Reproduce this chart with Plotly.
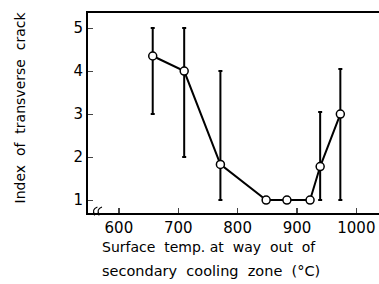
import plotly.graph_objects as go

temps = [657, 710, 771, 848, 883, 922, 939, 973]
index_vals = [4.35, 4.0, 1.83, 1.0, 1.0, 1.0, 1.78, 3.0]
err_upper = [5.0, 5.0, 4.0, 1.0, 1.0, 1.0, 3.05, 4.05]
err_lower = [3.0, 2.0, 1.0, 1.0, 1.0, 1.0, 1.0, 1.0]
x_ticks = [600, 700, 800, 900, 1000]
y_ticks = [1, 2, 3, 4, 5]

plus = [u - v for u, v in zip(err_upper, index_vals)]
minus = [v - l for l, v in zip(err_lower, index_vals)]

FONT = "DejaVu Sans"
fig = go.Figure()
fig.add_trace(go.Scatter(
    x=temps, y=index_vals, mode="lines+markers",
    line=dict(color="black", width=2),
    marker=dict(symbol="circle", size=8, color="white", line=dict(color="black", width=1.5)),
    error_y=dict(type="data", symmetric=False, array=plus, arrayminus=minus,
                 color="black", thickness=2, width=2),
    showlegend=False, hoverinfo="skip",
))

fig.update_layout(
    width=392, height=284,
    margin=dict(l=88, r=0, t=13, b=71),
    paper_bgcolor="white", plot_bgcolor="white",
    font=dict(family=FONT, color="black"),
    xaxis=dict(range=[548, 1060], tickvals=x_ticks, ticks="inside", ticklen=5,
               tickwidth=1.5, showline=True, linecolor="black", linewidth=2,
               mirror=True, showgrid=False, zeroline=False,
               tickfont=dict(size=15, family=FONT)),
    yaxis=dict(range=[0.7, 5.35], tickvals=y_ticks, ticks="inside", ticklen=5,
               tickwidth=1, showline=True, linecolor="black", linewidth=2,
               showgrid=False, zeroline=False,
               tickfont=dict(size=15, family=FONT)),
    annotations=[
        dict(text="Index  of  transverse  crack", textangle=-90, x=-0.255, y=0.53,
             xref="paper", yref="paper", showarrow=False, font=dict(size=14, family=FONT)),
        dict(text="Surface  temp. at  way  out  of", x=0.04, y=-0.12,
             xref="paper", yref="paper", xanchor="left", yanchor="top",
             showarrow=False, font=dict(size=14, family=FONT)),
        dict(text="secondary  cooling  zone  (°C)", x=0.04, y=-0.24,
             xref="paper", yref="paper", xanchor="left", yanchor="top",
             showarrow=False, font=dict(size=14.5, family=FONT)),
    ],
    shapes=[
        dict(type="path", xref="paper", yref="paper",
             path="M 0.022 -0.012 Q 0.011 0.02 0.031 0.03", line=dict(color="black", width=1.2)),
        dict(type="path", xref="paper", yref="paper",
             path="M 0.037 -0.012 Q 0.026 0.02 0.046 0.03", line=dict(color="black", width=1.2)),
    ],
)

fig.write_html("out.html", config={"displayModeBar": False, "staticPlot": True},
               post_script="document.body.style.margin='0';document.body.style.overflow='hidden';"
                           "document.documentElement.style.overflow='hidden';")
